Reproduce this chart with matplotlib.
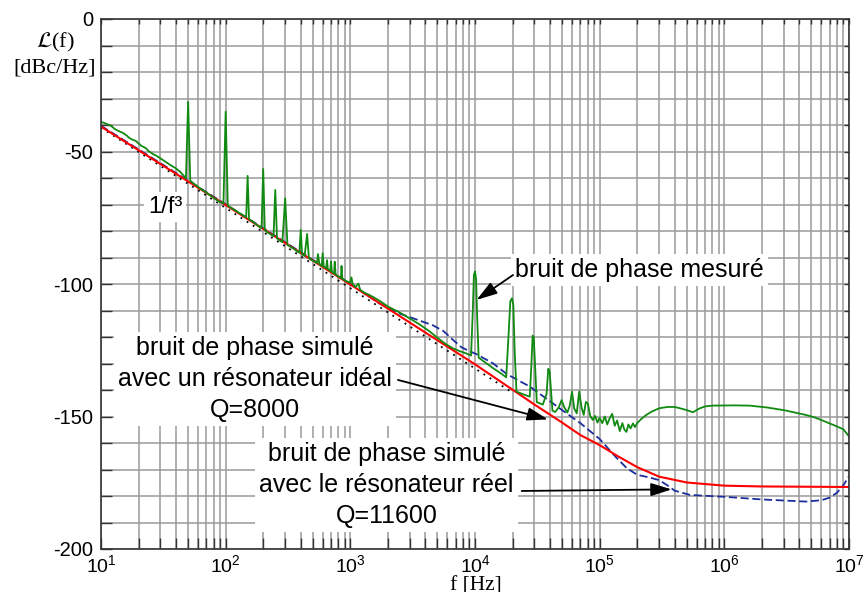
import numpy as np
import matplotlib
matplotlib.use('Agg')
import matplotlib.pyplot as plt
from matplotlib.ticker import FixedLocator, FixedFormatter, NullFormatter

plt.rcParams['font.family'] = ['Liberation Sans', 'DejaVu Sans']
plt.rcParams['mathtext.fontset'] = 'custom'
plt.rcParams['mathtext.rm'] = 'Liberation Sans'
plt.rcParams['mathtext.it'] = 'Liberation Sans:italic'

# ---- data (f in Hz, L in dBc/Hz) ----
# simulated phase noise, ideal resonator Q=8000
ideal_f = [10, 100, 1e3, 1e4, 3e4, 5e4, 7e4, 1e5, 1.4e5, 2e5, 3e5, 5e5, 1e6, 2e6, 1e7]
ideal_L = [-40.6, -70.2, -100.2, -130.3, -145.5, -152.3, -157.0, -160.8, -165.0,
           -169.1, -172.7, -174.9, -176.1, -176.4, -176.6]

# simulated phase noise, real resonator Q=11600
real_f = [10, 100, 1e3, 1700, 2350, 3000, 3800, 4600, 5600, 6700, 7800, 9000, 1.03e4,
          1.4e4, 1.8e4, 2.75e4, 4.2e4, 5.5e4, 7e4, 1e5, 1.36e5, 1.65e5, 2e5, 2.5e5, 3e5,
          3.5e5, 4e5, 5.3e5, 1e6, 2e6, 4.5e6, 6e6, 7e6, 8e6, 9e6, 1e7]
real_L = [-40.3, -69.9, -99.9, -107.3, -110.8, -112.5, -114.2, -115.6, -117.8, -121.2,
          -123.9, -125.3, -126.5, -130.0, -134.0, -138.7, -145.0, -149.0, -152.5, -158.5,
          -165.5, -169.5, -172.0, -173.0, -174.0, -176.0, -178.0, -179.6, -180.3, -181.3,
          -182.1, -181.6, -180.6, -178.8, -176.0, -172.5]

# 1/f^3 asymptote
asym_f = [10, 2e4]
asym_L = [-41.0, -141.0]

# measured phase noise
meas_f = [10, 11, 12, 13, 14, 15, 16, 17, 18, 19, 20, 21, 22, 23, 24, 26, 28, 30, 33, 36,
          40, 43, 46, 48, 50, 52, 55, 60, 65, 70, 75, 80, 85, 90, 96, 100, 104, 110, 120,
          130, 140, 146, 150, 154, 165, 180, 194, 200, 206, 215, 230, 242, 250, 258, 270,
          285, 300, 313, 330, 350, 370, 390, 400, 410, 430, 450, 465, 490, 520, 540, 550,
          565, 590, 600, 612, 640, 650, 660, 690, 700, 712, 740, 750, 762, 800, 840, 850,
          862, 900, 950, 1000, 1020, 1045, 1100, 1160, 1200, 1300, 1400, 1550, 1726, 2000,
          2500, 3000, 3600, 4300, 5000, 5800, 6600, 7500, 8500, 9300, 9600, 9800, 1e4,
          1.02e4, 1.04e4, 1.07e4, 1.2e4, 1.4e4, 1.6e4, 1.78e4, 1.85e4, 1.92e4, 1.98e4,
          2.03e4, 2.08e4, 2.15e4, 2.4e4, 2.75e4, 2.83e4, 2.9e4, 2.96e4, 3.03e4, 3.13e4,
          3.5e4, 3.75e4, 3.87e4, 3.97e4, 4.07e4, 4.18e4, 4.4e4, 4.7e4, 4.95e4, 5.2e4,
          5.5e4, 5.75e4, 6e4, 6.25e4, 6.55e4, 6.85e4, 7.15e4, 7.45e4, 7.75e4, 8.05e4,
          8.4e4, 8.8e4, 9.2e4, 9.6e4, 1e5, 1.05e5, 1.1e5, 1.15e5, 1.2e5, 1.26e5, 1.32e5,
          1.38e5, 1.45e5, 1.52e5, 1.58e5, 1.64e5, 1.7e5, 1.77e5, 1.85e5, 1.92e5, 2e5,
          2.15e5, 2.35e5, 2.6e5, 3e5, 3.5e5, 4e5, 4.5e5, 5e5, 5.6e5, 6.3e5, 7e5, 8e5,
          1.2e6, 1.6e6, 2.2e6, 3e6, 3.6e6, 4.4e6, 5.2e6, 6.2e6, 7.5e6, 9e6, 1e7]
meas_L = [-38.8, -39.5, -40.3, -41.6, -42.4, -43.0, -43.9, -45.0, -45.6, -46.0, -46.9,
          -47.8, -48.3, -48.8, -49.8, -50.9, -51.7, -52.6, -53.9, -55.1, -56.4, -57.6,
          -59.1, -60.2, -31.3, -61.0, -62.0, -63.3, -64.5, -65.5, -66.5, -67.5, -68.3,
          -69.1, -69.6, -35.0, -70.4, -71.2, -72.3, -73.4, -74.3, -74.9, -59.2, -75.6,
          -76.5, -77.9, -78.9, -56.6, -79.6, -80.4, -81.3, -82.0, -64.5, -82.8, -83.5,
          -84.2, -67.7, -85.2, -85.9, -86.6, -87.5, -88.2, -79.6, -88.8, -89.4, -81.1,
          -90.1, -91.0, -91.6, -92.1, -88.7, -92.6, -93.2, -88.4, -93.6, -94.0, -91.0,
          -94.4, -95.1, -91.6, -95.5, -96.1, -91.6, -96.4, -97.1, -97.7, -93.2, -98.0,
          -98.6, -99.1, -99.5, -97.5, -100.0, -101.2, -99.8, -102.2, -103.3, -104.0,
          -105.1, -106.4, -108.5, -110.8, -113.0, -115.3, -117.8, -120.3, -122.6, -124.2,
          -125.3, -126.2, -127.0, -110.0, -96.5, -95.3, -98.0, -112.0, -127.8, -129.5,
          -131.8, -133.6, -135.2, -121.0, -106.5, -105.4, -108.0, -125.0, -140.6, -141.5,
          -142.5, -131.0, -119.5, -120.0, -130.0, -144.6, -145.5, -141.5, -132.0, -133.0,
          -140.0, -147.8, -148.3, -146.5, -143.8, -146.5, -148.5, -146.0, -140.6, -147.0,
          -148.8, -140.6, -146.5, -149.4, -144.5, -145.2, -149.8, -151.3, -149.8, -152.3,
          -150.5, -152.5, -150.0, -153.0, -150.8, -149.0, -153.5, -151.5, -155.5, -152.5,
          -155.0, -155.8, -153.0, -154.5, -152.6, -154.0, -152.5, -151.0, -149.5, -148.2,
          -146.9, -146.4, -146.4, -147.0, -147.6, -148.4, -147.0, -146.2, -145.9, -145.8,
          -145.9, -146.6, -147.6, -148.4, -149.3, -150.2, -151.6, -153.2, -154.8, -157.5]

x_major = [1e1, 1e2, 1e3, 1e4, 1e5, 1e6, 1e7]
x_labels = [r'$\mathregular{10^{%d}}$' % k for k in range(1, 8)]
y_major = [0, -50, -100, -150, -200]
y_labels = ['0', '-50', '-100', '-150', '-200']

# ---- figure ----
W, H = 863, 592
fig = plt.figure(figsize=(W / 100, H / 100), dpi=100)
ax = fig.add_axes([101 / W, (H - 549) / H, 748 / W, 530 / H])
ax.set_xscale('log')
ax.set_xlim(10, 1e7)
ax.set_ylim(-200, 0)

ax.xaxis.set_major_locator(FixedLocator(x_major))
ax.xaxis.set_major_formatter(FixedFormatter(x_labels))
minors = [m * 10 ** k for k in range(1, 7) for m in range(2, 10)]
ax.xaxis.set_minor_locator(FixedLocator(minors))
ax.xaxis.set_minor_formatter(NullFormatter())
ax.yaxis.set_major_locator(FixedLocator(y_major))
ax.yaxis.set_major_formatter(FixedFormatter(y_labels))
ax.yaxis.set_minor_locator(FixedLocator(list(range(-190, 0, 10))))

ax.set_axisbelow(True)
ax.grid(which='both', color='#9a9a9a', lw=1.1)
ax.tick_params(which='both', direction='in', length=8, width=1.0, color='#333333',
               top=True, right=True)
ax.tick_params(axis='x', which='major', labelsize=14, pad=4)
ax.tick_params(axis='y', which='major', labelsize=14.5, pad=5.5)
for s in ax.spines.values():
    s.set_linewidth(1.2)
    s.set_color('#333333')

ax.plot(asym_f, asym_L, color='black', lw=1.3, dashes=(1, 3), zorder=2)
ax.plot(real_f, real_L, color='#1c2e9c', lw=1.3, dashes=(4.5, 2), zorder=2.1)
ax.plot(ideal_f, ideal_L, color='#ff0000', lw=1.5, zorder=2.2)
ax.plot(meas_f, meas_L, color='#108a10', lw=1.3, zorder=2.3)

box = dict(facecolor='white', edgecolor='none', pad=3)
ax.text(32.6, -70.9, '1/f³', fontsize=17, ha='center', va='center', bbox=box)
ax.text(2.09e4, -97.4, 'bruit de phase mesuré', fontsize=18, ha='left', va='baseline',
        bbox=box)
# multi-line texts: anchored on the baseline of their last line
ax.text(172, -150.2, 'bruit de phase simulé\navec un résonateur idéal\nQ=8000',
        fontsize=18, ha='center', va='baseline', multialignment='center',
        linespacing=1.36, bbox=dict(facecolor='white', edgecolor='none', pad=3))
ax.text(1954, -190.2, 'bruit de phase simulé\navec le résonateur réel\nQ=11600',
        fontsize=18, ha='center', va='baseline', multialignment='center',
        linespacing=1.36, bbox=dict(facecolor='white', edgecolor='none', pad=3))

arrow = dict(arrowstyle='-|>,head_length=0.7,head_width=0.22', color='black', lw=1.3,
             mutation_scale=18, shrinkA=0, shrinkB=0)
ax.annotate('', xy=(1.03e4, -106.0), xytext=(2.02e4, -96.6), arrowprops=arrow)
ax.annotate('', xy=(3.85e4, -151.1), xytext=(2410, -136.2), arrowprops=arrow)
ax.annotate('', xy=(3.78e5, -177.5), xytext=(2.37e4, -178.1), arrowprops=arrow)

serif = ['Liberation Serif', 'DejaVu Serif']
fig.text(55 / W, 1 - 42 / H, r'$\mathcal{L}$(f)', family=serif, math_fontfamily='stix',
         fontsize=16, ha='center', va='center')
fig.text(55 / W, 1 - 68 / H, '[dBc/Hz]', family=serif, fontsize=16, ha='center',
         va='center')
fig.text(476 / W, 1 - 576 / H, 'f [Hz]', family=serif, fontsize=15.5, ha='center',
         va='top')

# shorter ticks on the top and right sides
fig.canvas.draw()
for t in (ax.xaxis.get_major_ticks() + ax.xaxis.get_minor_ticks()
          + ax.yaxis.get_major_ticks() + ax.yaxis.get_minor_ticks()):
    t.tick2line.set_markersize(3.5)

fig.savefig('out.png', dpi=100)
